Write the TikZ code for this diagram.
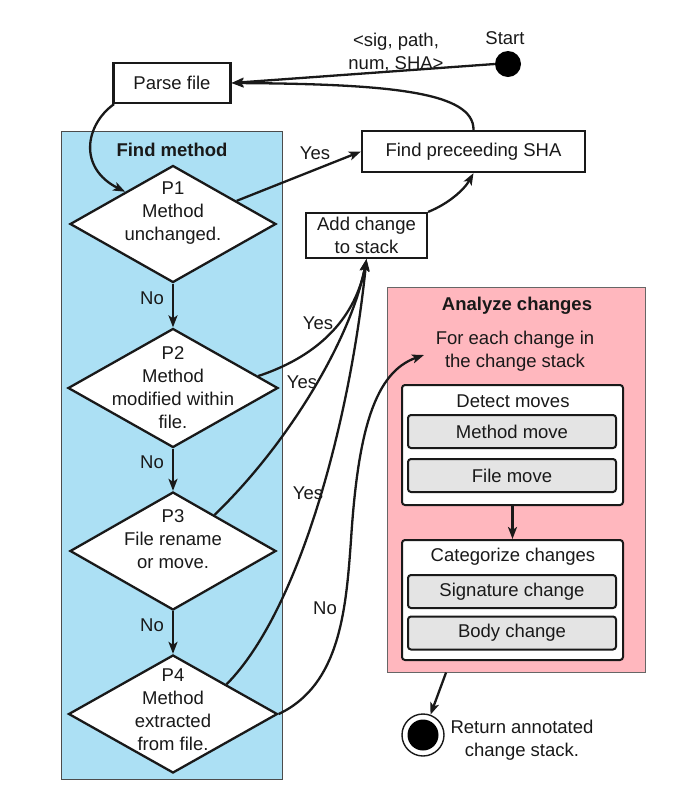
\documentclass[tikz,border=0pt]{standalone}
\usepackage{fontspec}
\setmainfont{Liberation Sans}
\usetikzlibrary{shapes.geometric,arrows.meta,calc}
\definecolor{fmblue}{RGB}{172,224,244}
\definecolor{acpink}{RGB}{255,183,190}
\definecolor{subgray}{RGB}{228,228,228}
\definecolor{ink}{RGB}{25,25,25}
\begin{document}
\begin{tikzpicture}[x=1pt,y=-1pt,
  font=\fontsize{18.5}{23}\selectfont, text=ink,
  conn/.style={line width=2.3pt, draw=ink, -{Stealth[length=12pt,width=9pt,inset=3pt]}},
  box/.style={draw=ink, line width=2.2pt, fill=white, inner sep=0pt, align=center},
  dia/.style={diamond, draw=ink, line width=2.3pt, fill=white, inner sep=0pt},
  dtext/.style={align=center, inner sep=0pt},
  grp/.style={draw=ink, line width=2pt, fill=white, rounded corners=3pt, minimum width=221, minimum height=120, inner sep=0pt},
  sub/.style={draw=ink, line width=2pt, fill=subgray, rounded corners=3pt, minimum width=208, minimum height=33, inner sep=0pt},
  ttl/.style={font=\fontsize{18.5}{23}\selectfont\bfseries},
  lbl/.style={inner sep=1pt}]
\useasboundingbox (0,0) rectangle (698,807);

% containers
\node[draw=black!70, line width=1pt, fill=fmblue, minimum width=221, minimum height=648, inner sep=0pt] (fm) at (171.5,455) {};
\node[ttl] (fmt) at (172,150) {Find method};
\node[draw=black!60, line width=1pt, fill=acpink, minimum width=258, minimum height=385, inner sep=0pt] (ac) at (516,479.5) {};
\node[ttl] (act) at (517,306) {Analyze changes};
\node[align=center, inner sep=2pt] (feach) at (515,351) {For each change in\\the change stack};

% start
\node[circle, fill=black, minimum size=26, inner sep=0pt] (start) at (508,64) {};
\node (startl) at (505,38) {Start};
\node[align=center, inner sep=0pt] (sigl) at (396,52) {<sig, path,\\num, SHA>};

% boxes
\node[box, minimum width=117, minimum height=40] (parse) at (172,83) {Parse file};
\node[box, minimum width=223, minimum height=41] (sha) at (473.5,151.5) {Find preceeding SHA};
\node[box, minimum width=121, minimum height=45] (addc) at (366.5,235.5) {Add change\\to stack};

% diamonds
\node[dia, minimum width=206, minimum height=117] (p1) at (173,224) {};
\node[dtext] (p1t) at (173,213.5) {P1\\Method\\unchanged.};
\node[dia, minimum width=210, minimum height=119] (p2) at (173,388) {};
\node[dtext] (p2t) at (173,387.5) {P2\\Method\\modified within\\file.};
\node[dia, minimum width=206, minimum height=118] (p3) at (173,551) {};
\node[dtext] (p3t) at (173,539) {P3\\File rename\\or move.};
\node[dia, minimum width=209, minimum height=118] (p4) at (173,714) {};
\node[dtext] (p4t) at (173,709.5) {P4\\Method\\extracted\\from file.};

% analyze internals
\node[grp] (det) at (512.5,445) {};
\node (dett) at (513,401) {Detect moves};
\node[sub] (mm) at (512,431.5) {Method move};
\node[sub] (fmv) at (512,475.5) {File move};
\node[grp] (cat) at (512.5,600) {};
\node (catt) at (513,557) {Categorize changes};
\node[sub] (sig) at (512,591.5) {Signature change};
\node[sub] (body) at (512,633) {Body change};

% end
\node[circle, draw=ink, line width=1.4pt, fill=white, minimum size=42, inner sep=0pt] (endc) at (423,735) {};
\node[circle, fill=black, minimum size=31, inner sep=0pt] (endd) at (423,735) {};
\node[align=center, inner sep=0pt] (endl) at (522,740) {Return annotated\\change stack.};

% connectors
\draw[conn] (start.west) -- (parse.east);
\draw[conn] (sha.north) .. controls (474,92) and (390,84) .. (parse.east);
\draw[conn] (parse.200) .. controls (85,125) and (78,168) .. (p1.146);
\draw[conn] (p1.20) -- (sha.west);
\draw[conn] (addc.north east) .. controls (448,204) and (464,190) .. (sha.south);
\draw[conn] (p1.south) -- (p2.north);
\draw[conn] (p2.south) -- (p3.north);
\draw[conn] (p3.south) -- (p4.north);
\draw[conn] (p2.8) .. controls (322,355) and (356,315) .. (addc.south);
\draw[conn] (p3.41) .. controls (292,440) and (352,335) .. (addc.south);
\draw[conn] (p4.29) .. controls (300,610) and (350,420) .. (addc.south);
\coordinate (noend) at (424,355);
\draw[conn] (p4.east) .. controls (340,685) and (346,610) .. (351,540) .. controls (358,430) and (375,372) .. (noend);
\draw[conn] (det.south) -- (cat.north);
\draw[conn] ($(ac.south west)!0.23!(ac.south east)$) -- (endc);

% labels
\node[lbl] (yes1) at (315,153) {Yes};
\node[lbl] (yes2) at (318,323) {Yes};
\node[lbl] (yes3) at (302,382) {Yes};
\node[lbl] (yes4) at (308,493) {Yes};
\node[lbl] (no4) at (325,608) {No};
\node[lbl] (no1) at (152,298) {No};
\node[lbl] (no2) at (152,462) {No};
\node[lbl] (no3) at (152,625) {No};
\end{tikzpicture}
\end{document}
